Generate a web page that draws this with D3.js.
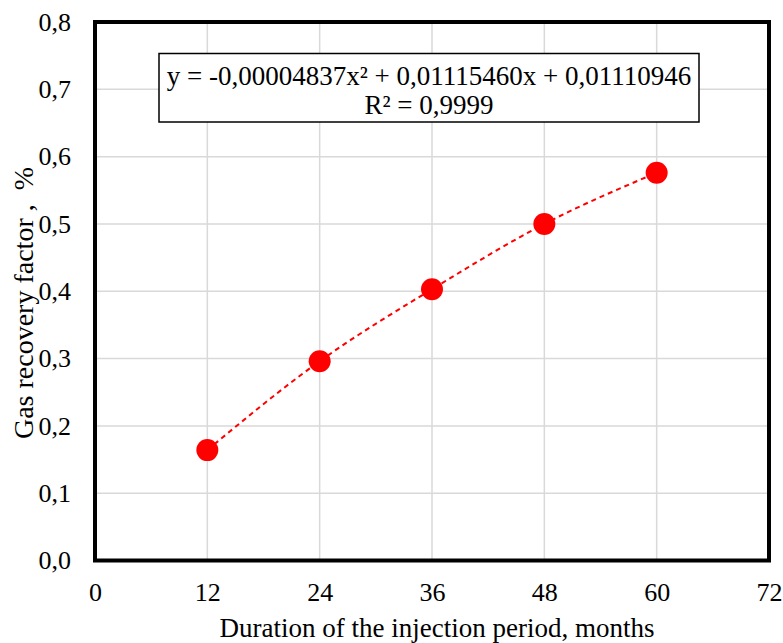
<!DOCTYPE html>
<html>
<head>
<meta charset="utf-8">
<script src="https://cdnjs.cloudflare.com/ajax/libs/d3/7.8.5/d3.min.js"></script>
<style>
  body { margin: 0; background: #fff; }
  text { font-family: "Liberation Serif", "Times New Roman", serif; fill: #000; }
</style>
</head>
<body>
<svg width="783" height="643"></svg>
<script>
// data
const months = [12, 24, 36, 48, 60];
const recovery = [0.164, 0.296, 0.403, 0.500, 0.576];
const xTicks = [0, 12, 24, 36, 48, 60, 72];
const yTicks = [0, 0.1, 0.2, 0.3, 0.4, 0.5, 0.6, 0.7, 0.8];
const equationLines = ["y = -0,00004837x² + 0,01115460x + 0,01110946", "R² = 0,9999"];

const plotLeft = 95, plotRight = 769, plotTop = 22, plotBottom = 560.5;

const svg = d3.select("svg");

const x = d3.scaleLinear().domain([0, 72]).range([plotLeft, plotRight]);
const y = d3.scaleLinear().domain([0, 0.8]).range([plotBottom, plotTop]);

// grid
svg.append("g")
   .selectAll("line")
   .data(xTicks.slice(1, -1))
   .enter().append("line")
   .attr("x1", d => x(d)).attr("x2", d => x(d))
   .attr("y1", plotTop).attr("y2", plotBottom)
   .style("stroke", "#d9d9d9").style("stroke-width", 1.5);

svg.append("g")
   .selectAll("line")
   .data(yTicks.slice(1, -1))
   .enter().append("line")
   .attr("x1", plotLeft).attr("x2", plotRight)
   .attr("y1", d => y(d)).attr("y2", d => y(d))
   .style("stroke", "#d9d9d9").style("stroke-width", 1.5);

// axes (labels only)
const fmt = d => d3.format(".1f")(d).replace(".", ",");

const xAxis = svg.append("g")
   .attr("transform", `translate(0,${plotBottom})`)
   .call(d3.axisBottom(x).tickValues(xTicks).tickSize(0).tickPadding(22));
xAxis.select(".domain").remove();
xAxis.selectAll("text").style("font-size", "26px");

const yAxis = svg.append("g")
   .attr("transform", `translate(${plotLeft},0)`)
   .call(d3.axisLeft(y).tickValues(yTicks).tickFormat(fmt).tickSize(0).tickPadding(24));
yAxis.select(".domain").remove();
yAxis.selectAll("text").style("font-size", "26px");

// plot border
svg.append("rect")
   .attr("x", plotLeft).attr("y", plotTop)
   .attr("width", plotRight - plotLeft).attr("height", plotBottom - plotTop)
   .style("fill", "none").style("stroke", "#000").style("stroke-width", 4);

// trend line
const pts = months.map((m, i) => [m, recovery[i]]);
svg.append("path")
   .datum(pts)
   .attr("d", d3.line().x(d => x(d[0])).y(d => y(d[1])).curve(d3.curveNatural))
   .style("fill", "none").style("stroke", "#ff0000")
   .style("stroke-width", 2).style("stroke-dasharray", "5,4");

// points
svg.selectAll("circle")
   .data(pts)
   .enter().append("circle")
   .attr("cx", d => x(d[0])).attr("cy", d => y(d[1]))
   .attr("r", 11)
   .style("fill", "#ff0000");

// equation box
svg.append("rect")
   .attr("x", 159).attr("y", 53.5).attr("width", 540).attr("height", 68.5)
   .style("fill", "#fff").style("stroke", "#000").style("stroke-width", 1.5);

svg.selectAll("text.eq")
   .data(equationLines)
   .enter().append("text")
   .attr("class", "eq")
   .attr("x", 429).attr("y", (d, i) => 85 + i * 28.5)
   .attr("text-anchor", "middle")
   .style("font-size", "27px")
   .text(d => d);

// axis titles
svg.append("text")
   .attr("x", 437).attr("y", 637)
   .attr("text-anchor", "middle")
   .style("font-size", "27px")
   .text("Duration of the injection period, months");

svg.append("text")
   .attr("transform", "translate(33,303) rotate(-90)")
   .attr("text-anchor", "middle")
   .style("font-size", "28px")
   .style("white-space", "pre")
   .text("Gas recovery factor ,  %");
</script>
</body>
</html>
